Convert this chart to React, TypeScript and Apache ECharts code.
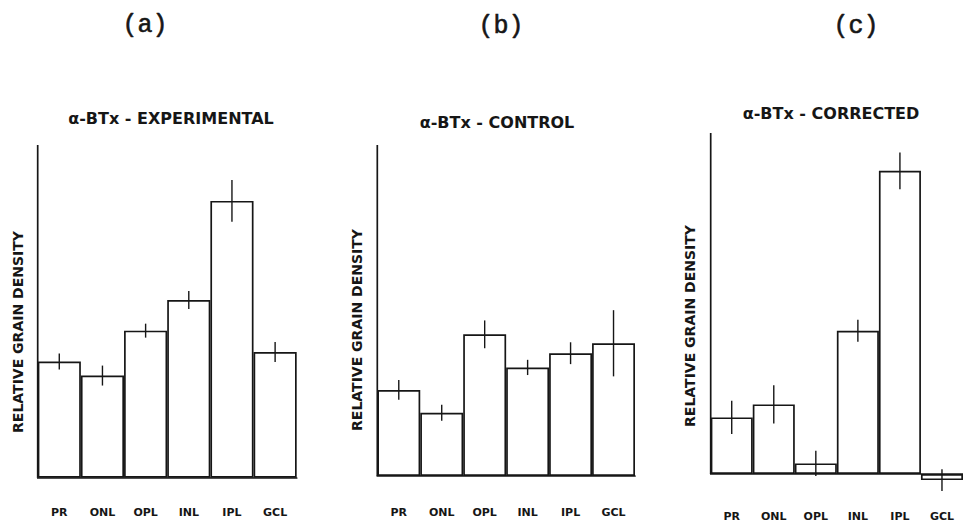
import React, { useEffect, useRef } from "react";
import * as echarts from "echarts";

const categories = ["PR", "ONL", "OPL", "INL", "IPL", "GCL"];
const experimentalValues = [34.9, 30.7, 44.2, 53.4, 83.2, 37.8];
const experimentalErrors = [2.4, 3.0, 2.1, 2.7, 6.3, 3.0];
const controlValues = [26.0, 19.1, 42.8, 32.8, 37.1, 40.1];
const controlErrors = [3.0, 2.4, 4.2, 2.3, 3.3, 10.0];
const correctedValues = [16.6, 20.4, 3.1, 42.0, 88.9, -1.8];
const correctedErrors = [4.9, 5.6, 3.7, 3.2, 5.4, 3.2];
const panelLetters = ["(a)", "(b)", "(c)"];
const panelTitles = ["α-BTx - EXPERIMENTAL", "α-BTx - CONTROL", "α-BTx - CORRECTED"];
const yAxisTitle = "RELATIVE GRAIN DENSITY";
const yMax = 100;
const yMins = [0, 0, -2];

const INK = "#161616";
const LW = 1.7;

export default function App() {
  const ref = useRef<HTMLDivElement>(null);
  useEffect(() => {
    document.body.style.margin = "0";
    const chart = echarts.init(ref.current!, null, { renderer: "svg" });
    const grids = [
      { left: 37.7, top: 145, width: 259, height: 332.7 },
      { left: 377.3, top: 145, width: 257.7, height: 331 },
      { left: 710.7, top: 133, width: 256, height: 347.8 },
    ];
    const valueSets = [experimentalValues, controlValues, correctedValues];
    const errorSets = [experimentalErrors, controlErrors, correctedErrors];
    const labelMargins = [29, 31, 30];

    const xAxis = grids.map((_, i) => ({
      type: "category",
      gridIndex: i,
      data: categories,
      axisTick: { show: false },
      axisLine: { show: true, onZero: true, lineStyle: { color: INK, width: LW } },
      axisLabel: {
        margin: labelMargins[i],
        color: INK,
        fontSize: 11,
        fontWeight: "bold",
        fontFamily: "DejaVu Sans",
        interval: 0,
      },
    }));
    const yAxis = grids.map((_, i) => ({
      type: "value",
      gridIndex: i,
      min: yMins[i],
      max: yMax,
      axisLine: { show: false },
      axisTick: { show: false },
      axisLabel: { show: false },
      splitLine: { show: false },
    }));

    const series: any[] = [];
    grids.forEach((_, i) => {
      series.push({
        type: "bar",
        xAxisIndex: i,
        yAxisIndex: i,
        data: valueSets[i],
        barCategoryGap: "0%",
        itemStyle: { color: "#ffffff", borderColor: INK, borderWidth: LW },
        z: 2,
      });
      series.push({
        type: "custom",
        xAxisIndex: i,
        yAxisIndex: i,
        data: valueSets[i].map((v, k) => [k, v, errorSets[i][k]]),
        z: 3,
        renderItem: (params: any, api: any) => {
          const k = api.value(0);
          const v = api.value(1);
          const e = api.value(2);
          const p1 = api.coord([k, v + e]);
          const p2 = api.coord([k, v - e]);
          return {
            type: "line",
            shape: { x1: p1[0], y1: p1[1], x2: p2[0], y2: p2[1] },
            style: { stroke: INK, lineWidth: 1.4 },
          };
        },
      });
      series.push({
        type: "custom",
        xAxisIndex: i,
        yAxisIndex: i,
        data: [[0]],
        z: 4,
        renderItem: (params: any, api: any) => {
          const half = api.size([1, 0])[0] / 2;
          const b = api.coord([0, 0]);
          const t = api.coord([0, yMax]);
          return {
            type: "line",
            shape: { x1: b[0] - half, y1: b[1], x2: t[0] - half, y2: t[1] },
            style: { stroke: INK, lineWidth: LW },
          };
        },
      });
    });

    const letterPos = [
      [145, 25],
      [501, 26],
      [856, 26],
    ];
    const titlePos = [
      [171, 118],
      [497, 122],
      [831, 113],
    ];
    const yTitlePos = [
      [18, 332],
      [357, 330],
      [690, 326],
    ];
    const graphic: any[] = [];
    for (let i = 0; i < 3; i++) {
      graphic.push({
        type: "text",
        x: letterPos[i][0],
        y: letterPos[i][1],
        style: {
          text: panelLetters[i],
          fill: INK,
          font: "25px 'Liberation Mono'",
          textAlign: "center",
          textVerticalAlign: "middle",
          align: "center",
          verticalAlign: "middle",
          stroke: INK,
          lineWidth: 0.6,
        },
      });
      graphic.push({
        type: "text",
        x: titlePos[i][0],
        y: titlePos[i][1],
        style: {
          text: panelTitles[i],
          fill: INK,
          font: "bold 16px 'DejaVu Sans'",
          textAlign: "center",
          textVerticalAlign: "middle",
          align: "center",
          verticalAlign: "middle",
        },
      });
      graphic.push({
        type: "text",
        x: yTitlePos[i][0],
        y: yTitlePos[i][1],
        rotation: Math.PI / 2,
        style: {
          text: yAxisTitle,
          fill: INK,
          font: "bold 14px 'DejaVu Sans'",
          textAlign: "center",
          textVerticalAlign: "middle",
          align: "center",
          verticalAlign: "middle",
        },
      });
    }

    chart.setOption({
      animation: false,
      backgroundColor: "#ffffff",
      grid: grids,
      xAxis,
      yAxis,
      series,
      graphic,
    });
    return () => chart.dispose();
  }, []);
  return <div ref={ref} style={{ width: 963, height: 523, overflow: "hidden" }} />;
}
